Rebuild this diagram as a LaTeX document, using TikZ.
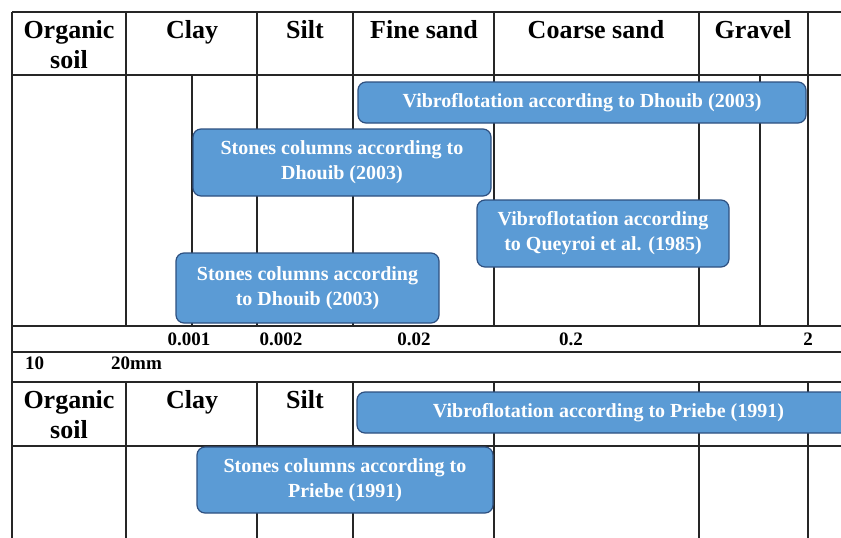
\documentclass[tikz,border=0pt]{standalone}
\usepackage{fontspec}
\setmainfont{Liberation Serif}
\definecolor{boxblue}{HTML}{5B9BD5}
\definecolor{boxline}{HTML}{2E5080}

\begin{document}
\begin{tikzpicture}[x=1pt,y=-1pt]
      \clip (0,0) rectangle (841,538);
      \fill[white] (0,0) rectangle (841,538);
      \begin{scope}[line width=1.4pt,color=black!85]
        \draw (12,12) -- (850,12);
        \draw (12,75) -- (850,75);
        \draw (12,326) -- (850,326);
        \draw (12,352) -- (850,352);
        \draw (12,382) -- (850,382);
        \draw (12,446) -- (850,446);
        \draw (12,12) -- (12,540);
        \foreach \x in {126,257,353,494,699,808} {
          \draw (\x,12) -- (\x,326);
          \draw (\x,382) -- (\x,540);
        }
        \draw (192,75) -- (192,326);
        \draw (760,75) -- (760,326);
      \end{scope}
      \begin{scope}[every node/.style={anchor=base,align=center,inner sep=0pt,font=\bfseries\fontsize{26}{30}\selectfont}]
        \node (org1) at (69,68) {Organic\\soil};
        \node (clay1) at (192,38) {Clay};
        \node (silt1) at (305,38) {Silt};
        \node (fine1) at (424,38) {Fine sand};
        \node (coarse1) at (596,38) {Coarse sand};
        \node (gravel1) at (753,38) {Gravel};
        \node (org2) at (69,438) {Organic\\soil};
        \node (clay2) at (192,408) {Clay};
        \node (silt2) at (305,408) {Silt};
      \end{scope}
      \begin{scope}[every node/.style={anchor=base,inner sep=0pt,font=\bfseries\fontsize{19}{23}\selectfont}]
        \node (n1) at (189,345) {0.001};
        \node (n2) at (281,345) {0.002};
        \node (n3) at (414,345) {0.02};
        \node (n4) at (571,345) {0.2};
        \node (n5) at (808,345) {2};
        \node[anchor=base west] (d1) at (25,369) {10};
        \node[anchor=base west] (d2) at (111,369) {20mm};
      \end{scope}
      \begin{scope}[every node/.style={rectangle,rounded corners=8pt,draw=boxline,fill=boxblue,line width=1.2pt,text=white,align=center,inner sep=0pt,font=\bfseries\fontsize{20}{25}\selectfont}]
        \node[minimum width=448pt,minimum height=41pt] (vd) at (582,102.5) {Vibroflotation according to Dhouib (2003)};
        \node[minimum width=298pt,minimum height=67pt] (sd) at (342,162.5) {Stones columns according to\\Dhouib (2003)};
        \node[minimum width=252pt,minimum height=67pt] (vq) at (603,233.5) {Vibroflotation according\\to Queyroi et al. (1985)};
        \node[minimum width=263pt,minimum height=70pt] (sd2) at (307.5,288) {Stones columns according\\to Dhouib (2003)};
        \node[minimum width=503pt,minimum height=41pt] (vp) at (608.5,412.5) {Vibroflotation according to Priebe (1991)};
        \node[minimum width=296pt,minimum height=66pt] (sp) at (345,480) {Stones columns according to\\Priebe (1991)};
      \end{scope}
    \end{tikzpicture}
\end{document}
